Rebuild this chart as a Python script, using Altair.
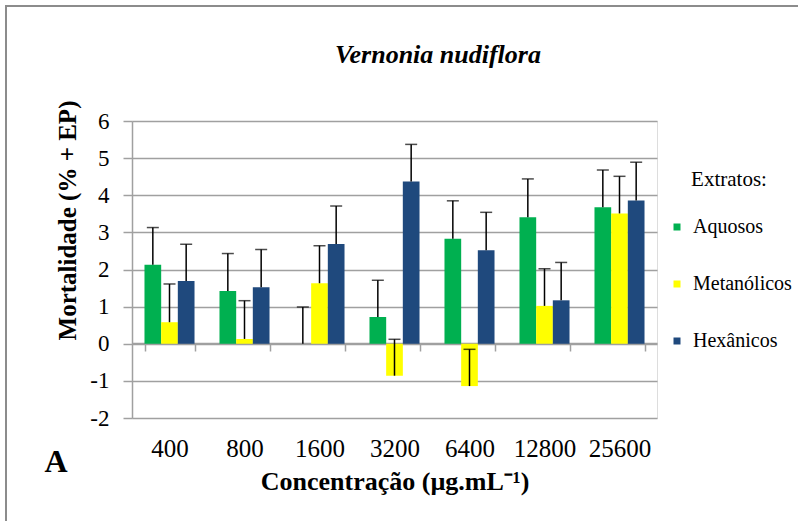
import altair as alt
import pandas as pd

categories = ["400", "800", "1600", "3200", "6400", "12800", "25600"]
series = ["Aquosos", "Metanólicos", "Hexânicos"]
colors = ["#00B050", "#FFFF00", "#1F497D"]

aquosos = [2.13, 1.42, 0.00, 0.72, 2.83, 3.41, 3.68]
aquosos_err = [1.00, 1.01, 0.99, 0.99, 1.02, 1.03, 1.00]
metanolicos = [0.58, 0.13, 1.63, -0.86, -1.14, 1.02, 3.51]
metanolicos_err = [1.03, 1.03, 1.01, 0.98, 0.99, 1.00, 1.00]
hexanicos = [1.69, 1.52, 2.69, 4.37, 2.52, 1.17, 3.86]
hexanicos_err = [0.99, 1.02, 1.02, 1.00, 1.02, 1.02, 1.03]

rows = []
for name, vals, errs in [("Aquosos", aquosos, aquosos_err),
                         ("Metanólicos", metanolicos, metanolicos_err),
                         ("Hexânicos", hexanicos, hexanicos_err)]:
    for c, v, e in zip(categories, vals, errs):
        rows.append({"conc": c, "extrato": name, "valor": v, "topo": v + e})
df = pd.DataFrame(rows)

FONT = "'Liberation Serif', 'Times New Roman', serif"
GRID = "#A0A0A0"

x_axis = alt.Axis(
    title="Concentração (µg.mL⁻¹)",
    titleFont=FONT, titleFontSize=26, titleFontWeight="bold", titleColor="black",
    titlePadding=7,
    labelFont=FONT, labelFontSize=25, labelColor="black", labelAngle=0,
    labelPadding=85, labelOverlap=False,
    offset=-75, domainColor=GRID, domainWidth=1.5,
    tickColor=GRID, tickWidth=1.5, tickSize=8, tickBand="extent",
    grid=False,
)
x_scale = alt.Scale(paddingInner=1/3, paddingOuter=1/6)
y_scale = alt.Scale(domain=[-2, 6], nice=False, zero=False)
y_axis = alt.Axis(
    title="Mortalidade  (% + EP)",
    titleFont=FONT, titleFontSize=25, titleFontWeight="bold", titleColor="black",
    titleX=-65, titleY=99, titleAlign="center", titleBaseline="middle", titleAngle=-90,
    labelFont=FONT, labelFontSize=23, labelColor="black", labelPadding=14,
    labelExpr="'' + datum.value", labelOverlap=False,
    values=[-2, -1, 0, 1, 2, 3, 4, 5, 6],
    domainColor=GRID, domainWidth=1.5,
    tickColor=GRID, tickWidth=1.5, tickSize=9,
    grid=True, gridColor=GRID, gridWidth=1.5,
)


def xenc():
    return alt.X("conc:N", sort=categories, scale=x_scale, axis=x_axis)


xo = alt.XOffset("extrato:N", sort=series, scale=alt.Scale(paddingInner=0, paddingOuter=0))

base = alt.Chart(df)

bars = base.mark_bar(size=16.7).encode(
    x=xenc(),
    xOffset=xo,
    y=alt.Y("valor:Q", scale=y_scale, axis=y_axis),
    color=alt.Color(
        "extrato:N",
        sort=series,
        scale=alt.Scale(domain=series, range=colors),
        legend=alt.Legend(
            title="Extratos:", orient="none", legendX=535, legendY=48, padding=0,
            titleFont=FONT, titleFontSize=21, titleFontWeight="normal", titleColor="black",
            titleAnchor="middle", titlePadding=27,
            labelFont=FONT, labelFontSize=20, labelColor="black", labelOffset=6,
            labelLimit=200,
            symbolType="square", symbolSize=49, symbolStrokeWidth=0,
            rowPadding=37,
        ),
    ),
)

err_rule = base.mark_rule(color="black", strokeWidth=1.5).encode(
    x=xenc(),
    xOffset=xo,
    y=alt.Y("valor:Q", scale=y_scale, axis=y_axis),
    y2="topo:Q",
)

err_cap = base.mark_tick(color="black", thickness=1.5, size=12, orient="horizontal").encode(
    x=xenc(),
    xOffset=xo,
    y=alt.Y("topo:Q", scale=y_scale, axis=y_axis),
)

frame = alt.Chart(pd.DataFrame({"k": [0]})).mark_rect(
    fill=None, stroke="#8C8C8C", strokeWidth=2
).encode(
    x=alt.value(-126), y=alt.value(-115), x2=alt.value(700), y2=alt.value(500)
)

annot = pd.DataFrame({"t": ["A"]})
letter = alt.Chart(annot).mark_text(
    font=FONT, fontSize=32, fontWeight="bold", color="black", align="center", baseline="middle"
).encode(text="t:N", x=alt.value(-76), y=alt.value(341))

title_df = pd.DataFrame({"t": ["Vernonia nudiflora"]})
title = alt.Chart(title_df).mark_text(
    font=FONT, fontSize=26, fontStyle="italic", fontWeight="bold", color="black",
    align="center", baseline="middle"
).encode(text="t:N", x=alt.value(306), y=alt.value(-66))

chart = alt.layer(frame, bars, err_rule, err_cap, letter, title).properties(
    width=525,
    height=297,
    autosize=alt.AutoSizeParams(type="none"),
    padding={"left": 132, "top": 121, "right": 141, "bottom": 103},
).configure_view(stroke=None).configure(background="white")

chart.save("out.html", embed_options={"renderer": "svg", "actions": False})
